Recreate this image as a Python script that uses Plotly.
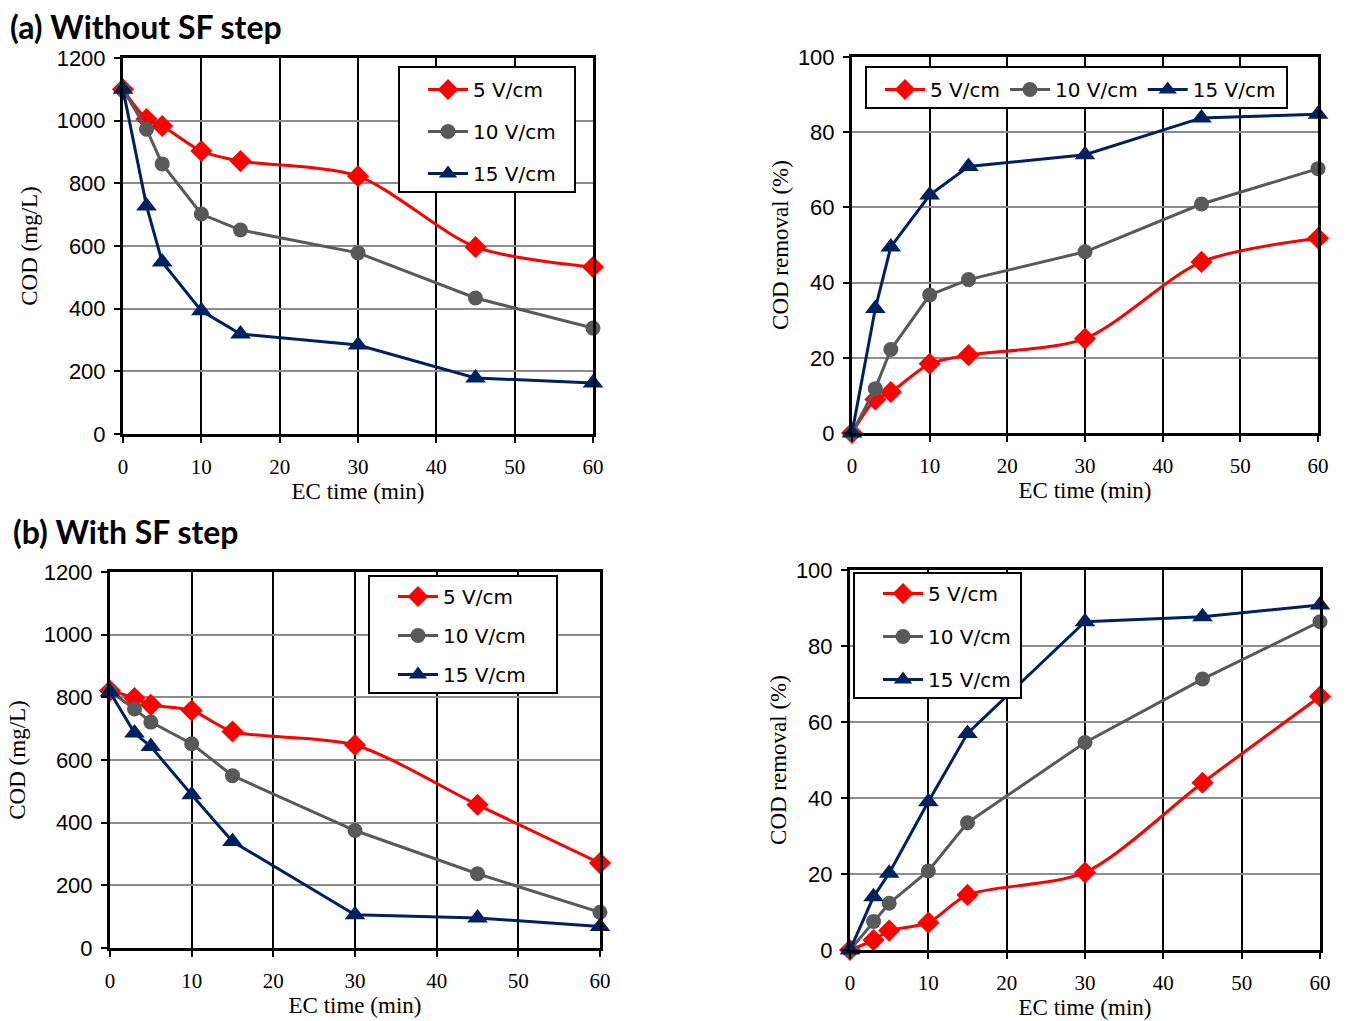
import plotly.graph_objects as go

W, H = 1351, 1021

time_min = [0, 3, 5, 10, 15, 30, 45, 60]
series_names = ["5 V/cm", "10 V/cm", "15 V/cm"]

# (a) Without SF step
cod_a_5 = [1100, 1005, 983, 903, 871, 823, 597, 533]
cod_a_10 = [1100, 973, 862, 702, 651, 578, 434, 338]
cod_a_15 = [1100, 728, 549, 393, 319, 284, 179, 163]
rem_a_5 = [0, 8.9, 10.9, 18.4, 20.7, 25.1, 45.5, 51.8]
rem_a_10 = [0, 11.8, 22.2, 36.7, 40.8, 48.2, 60.9, 70.3]
rem_a_15 = [0, 33.1, 49.5, 63.3, 70.9, 74.0, 83.8, 84.8]

# (b) With SF step
cod_b_5 = [821, 798, 776, 758, 691, 648, 457, 271]
cod_b_10 = [820, 763, 721, 652, 550, 375, 237, 114]
cod_b_15 = [817, 686, 643, 489, 340, 106, 96, 69]
rem_b_5 = [0, 2.6, 5.1, 7.2, 14.5, 20.4, 44.0, 66.7]
rem_b_10 = [0, 7.5, 12.3, 20.8, 33.5, 54.6, 71.3, 86.4]
rem_b_15 = [0, 14.0, 20.2, 39.0, 57.0, 86.4, 87.7, 90.8]

colors = ["#FF0000", "#595959", "#002060"]
symbols = ["diamond", "circle", "triangle-up"]
msizes = [17, 15, 18]
shapes_line = ["spline", "linear", "linear"]

panels = [
    dict(data=[cod_a_5, cod_a_10, cod_a_15], px=(123, 593), py=(58, 434), yr=[0, 1200], dt=200,
         ytitle="COD (mg/L)", legbox=(399, 67, 575, 192), horiz=False, gap=13, ystd=13, ly=3),
    dict(data=[rem_a_5, rem_a_10, rem_a_15], px=(852, 1318), py=(57, 433), yr=[0, 100], dt=20,
         ytitle="COD removal (%)", legbox=(866, 67, 1287, 108), horiz=True, gap=0, ystd=3, ly=3),
    dict(data=[cod_b_5, cod_b_10, cod_b_15], px=(110, 600), py=(572, 948), yr=[0, 1200], dt=200,
         ytitle="COD (mg/L)", legbox=(369, 576, 557, 693), horiz=False, gap=10, ystd=12, ly=1),
    dict(data=[rem_b_5, rem_b_10, rem_b_15], px=(850, 1320), py=(570, 950), yr=[0, 100], dt=20,
         ytitle="COD removal (%)", legbox=(854, 573, 1021, 698), horiz=False, gap=14, ystd=3, ly=1),
]

fig = go.Figure()
layout = dict(width=W, height=H, autosize=False, margin=dict(l=0, r=0, t=0, b=0, autoexpand=False),
              paper_bgcolor="white", plot_bgcolor="white", shapes=[], annotations=[])

for i, p in enumerate(panels):
    n = i + 1
    sfx = "" if n == 1 else str(n)
    legname = "legend" if n == 1 else f"legend{n}"
    for k in range(3):
        fig.add_trace(go.Scatter(
            x=time_min, y=p["data"][k], name=series_names[k],
            mode="lines+markers",
            line=dict(color=colors[k], width=3, shape=shapes_line[k], smoothing=0.8),
            marker=dict(symbol=symbols[k], size=msizes[k], color=colors[k]),
            xaxis="x" + sfx, yaxis="y" + sfx, cliponaxis=False,
            legend=legname, legendgroup=f"g{n}_{k}", showlegend=True,
        ))
    layout["xaxis" + sfx] = dict(
        domain=[p["px"][0] / W, p["px"][1] / W], anchor="y" + sfx, automargin=False,
        range=[0, 60], dtick=10, tick0=0,
        showgrid=True, gridcolor="black", gridwidth=2, zeroline=False,
        showline=True, linecolor="black", linewidth=3, mirror=True,
        ticks="outside", ticklen=6, tickwidth=2, tickcolor="black",
        tickfont=dict(family="Liberation Serif", size=21, color="black"),
        ticklabelstandoff=6,
        title=dict(text="EC time (min)", standoff=2,
                   font=dict(family="Liberation Serif", size=23, color="black")),
    )
    layout["yaxis" + sfx] = dict(
        domain=[1 - p["py"][1] / H, 1 - p["py"][0] / H], anchor="x" + sfx, automargin=False,
        range=p["yr"], dtick=p["dt"], tick0=0,
        showgrid=True, gridcolor="#8C8C8C", gridwidth=2, zeroline=False,
        showline=True, linecolor="black", linewidth=3, mirror=True,
        ticks="outside", ticklen=6, tickwidth=2, tickcolor="black",
        tickfont=dict(family="Liberation Sans", size=22, color="black"),
        ticklabelstandoff=4,
        title=dict(text=p["ytitle"], standoff=p["ystd"],
                   font=dict(family="Liberation Serif", size=23, color="black")),
    )
    bx0, by0, bx1, by1 = p["legbox"]
    layout["shapes"].append(dict(type="rect", xref="paper", yref="paper",
                                 x0=bx0 / W, x1=bx1 / W, y0=1 - by1 / H, y1=1 - by0 / H,
                                 fillcolor="white", line=dict(color="black", width=2),
                                 layer="above"))
    if p["horiz"]:
        layout[legname] = dict(orientation="h", x=(bx0 + 14) / W, y=1 - (by0 + p["ly"]) / H,
                               xanchor="left", yanchor="top", bgcolor="rgba(0,0,0,0)",
                               borderwidth=0, itemwidth=40, tracegroupgap=0,
                               font=dict(family="DejaVu Sans", size=20, color="black"),
                               traceorder="normal")
    else:
        layout[legname] = dict(orientation="v", x=(bx0 + 24) / W, y=1 - (by0 + p["ly"]) / H,
                               xanchor="left", yanchor="top", bgcolor="rgba(0,0,0,0)",
                               borderwidth=0, itemwidth=40, tracegroupgap=p["gap"],
                               font=dict(family="DejaVu Sans", size=20, color="black"),
                               traceorder="grouped")

layout["annotations"] += [
    dict(text="<b>(a) Without SF step</b>", x=8 / W, y=1 - 26 / H, xref="paper", yref="paper",
         xanchor="left", yanchor="middle", showarrow=False,
         font=dict(family="Lato", size=32, color="black")),
    dict(text="<b>(b) With SF step</b>", x=11 / W, y=1 - 531 / H, xref="paper", yref="paper",
         xanchor="left", yanchor="middle", showarrow=False,
         font=dict(family="Lato", size=32, color="black")),
]

fig.update_layout(**layout)
fig.write_html("out.html")
